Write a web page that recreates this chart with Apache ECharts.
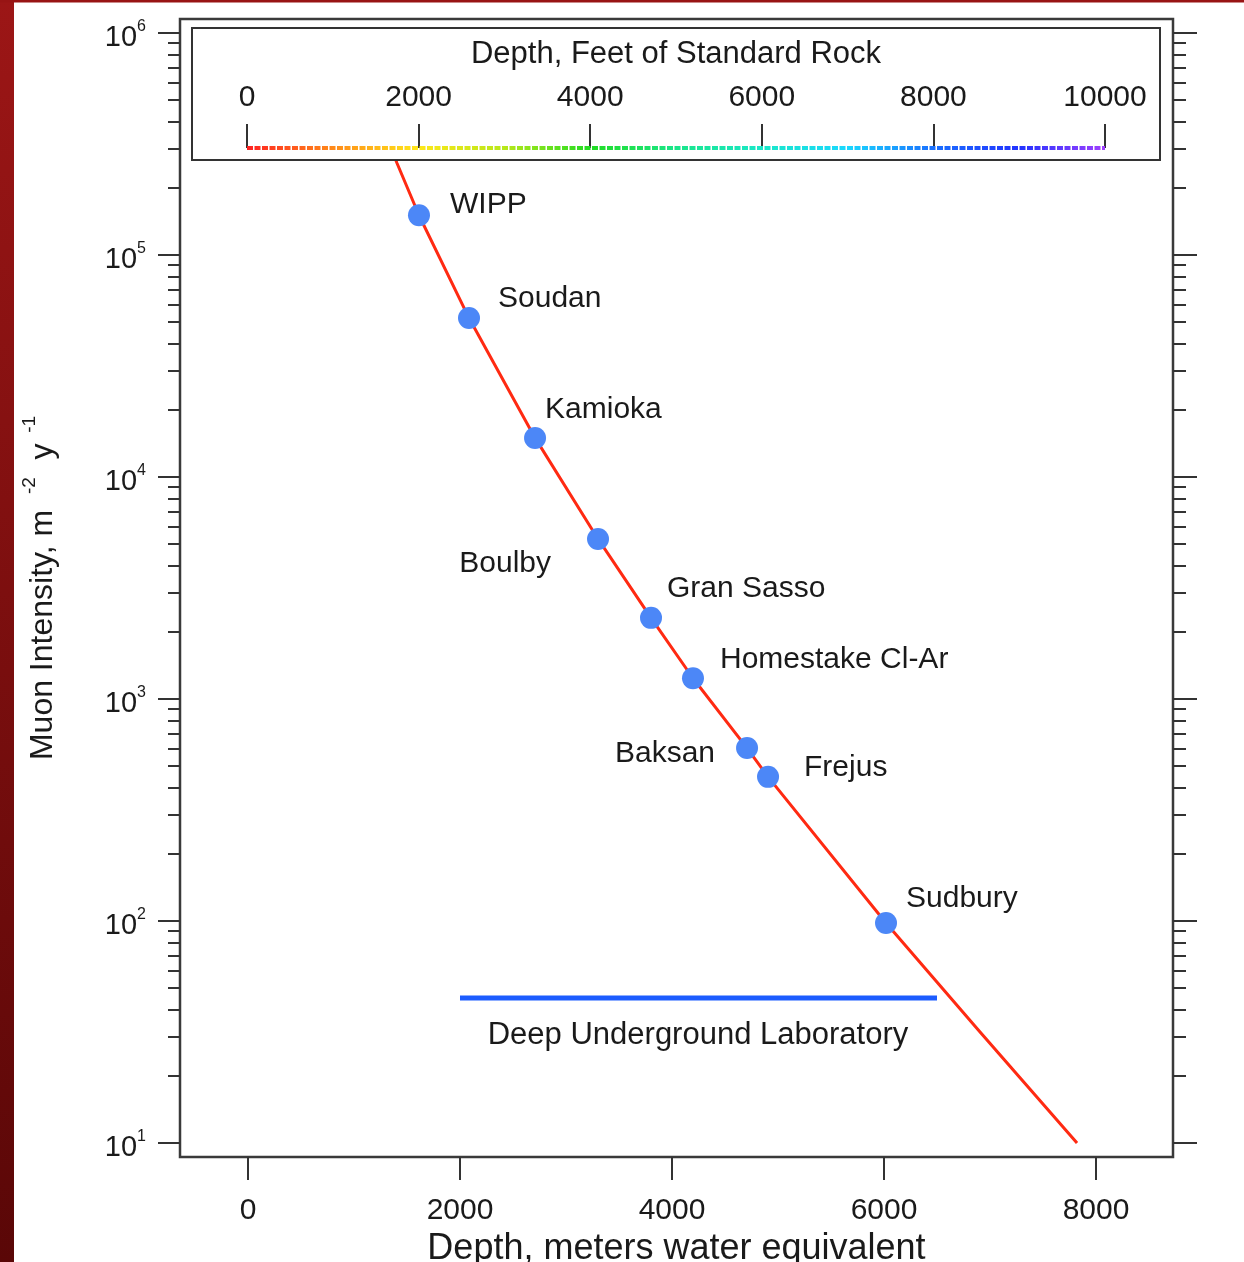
<!DOCTYPE html>
<html><head><meta charset="utf-8">
<script src="https://cdn.jsdelivr.net/npm/echarts@6/dist/echarts.min.js"></script>
<style>html,body{margin:0;padding:0;background:#fff;overflow:hidden}#c{width:1244px;height:1262px}</style>
</head><body><div id="c"></div>
<script>
// ---- data ----
const siteNames = ['WIPP','Soudan','Kamioka','Boulby','Gran Sasso','Homestake Cl-Ar','Baksan','Frejus','Sudbury'];
const siteDepths = [1613, 2085, 2708, 3302, 3802, 4198, 4708, 4906, 6019];          // m.w.e.
const siteIntensities = [1.51e5, 5.2e4, 1.5e4, 5.26e3, 2.32e3, 1.24e3, 601, 446, 98]; // m^-2 y^-1
const curveDepths = [1321, 1406, 1613, 2085, 2708, 3302, 3802, 4198, 4708, 4906, 6019, 6906, 7821];
const curveIntensities = [3.3e5, 2.59e5, 1.51e5, 5.2e4, 1.5e4, 5.26e3, 2.32e3, 1.24e3, 601, 446, 98, 31.6, 10];
const labDepths = [2000, 4245, 6500];
const labIntensity = 45;
const labLabel = 'Deep Underground Laboratory';
const depthTicks = [0, 2000, 4000, 6000, 8000];
const decadeExponents = [1, 2, 3, 4, 5, 6];
const rockFeetTicks = [0, 2000, 4000, 6000, 8000, 10000];
const rockColors = ['#ff2222','#ff8a1a','#ffe81a','#b8e81a','#22dd22','#1ae68a','#1ae8c8','#1ad8ff','#1a70ff','#2233ff','#a040ff'];

// ---- label placement (style only) ----
const labelPlacement = {
  'WIPP': ['left', 31, -11],
  'Soudan': ['left', 29, -19],
  'Kamioka': ['left', 10, -28],
  'Boulby': ['right', -47, 25],
  'Gran Sasso': ['left', 16, -29],
  'Homestake Cl-Ar': ['left', 27, -19],
  'Baksan': ['right', -32, 6],
  'Frejus': ['left', 36, -9],
  'Sudbury': ['left', 20, -24]
};

const FONT = '"Liberation Sans", Arial, Helvetica, sans-serif';
const TXT = '#1a1a1a';
const yMin = 1 - 14 / 222, yMax = 6 + 14 / 222;
const minorVals = [];
decadeExponents.slice(0, 5).forEach(n => { for (let k = 2; k <= 9; k++) minorVals.push(Math.log10(k * Math.pow(10, n))); });

function yAxisDef(pos, major) {
  return {
    type: 'value', gridIndex: 0, position: pos, min: yMin, max: yMax,
    splitLine: { show: false }, axisLine: { show: false, onZero: false },
    axisTick: { show: true, inside: false, length: major ? (pos === 'left' ? 22 : 24) : (pos === 'left' ? 12 : 13),
      customValues: major ? decadeExponents : minorVals, lineStyle: { color: '#333', width: 2 } },
    axisLabel: (major && pos === 'left') ? {
      show: true, customValues: decadeExponents, margin: 34,
      formatter: v => '{a|10}{b|' + Math.round(v) + '}',
      rich: {
        a: { fontFamily: FONT, fontSize: 29, lineHeight: 29, color: TXT, padding: [10, 0, 0, 0] },
        b: { fontFamily: FONT, fontSize: 16, lineHeight: 16, color: TXT, verticalAlign: 'top' }
      }
    } : { show: false },
    name: (major && pos === 'left') ? '{n|Muon Intensity, m}{s|   -2}{n|  y}{s|  -1}' : '',
    nameLocation: 'middle', nameGap: 128, nameRotate: 90,
    nameTextStyle: { fontFamily: FONT, fontSize: 32, color: TXT,
      rich: {
        n: { fontFamily: FONT, fontSize: 32, lineHeight: 32, color: TXT, padding: [15, 0, 0, 0] },
        s: { fontFamily: FONT, fontSize: 19, lineHeight: 19, color: TXT, verticalAlign: 'top' }
      } }
  };
}

const chart = echarts.init(document.getElementById('c'), null, { renderer: 'canvas' });
chart.setOption({
  backgroundColor: '#ffffff',
  animation: false,
  textStyle: { fontFamily: FONT },
  graphic: [
    { type: 'rect', shape: { x: 0, y: 0, width: 14, height: 1262 }, z: 0,
      style: { fill: { type: 'linear', x: 0, y: 0, x2: 0, y2: 1, colorStops: [{ offset: 0, color: '#9c1616' }, { offset: 1, color: '#5a0707' }] } } },
    { type: 'rect', shape: { x: 0, y: 0, width: 1244, height: 2.5 }, z: 0, style: { fill: '#981414' } },
    { type: 'rect', shape: { x: 192, y: 28, width: 968, height: 132 }, z: 3,
      style: { fill: '#ffffff', stroke: '#333', lineWidth: 2 } }
  ],
  grid: [
    { left: 180, right: 71, top: 19, bottom: 105, show: true, borderColor: '#3a3a3a', borderWidth: 2.5,
      backgroundColor: 'transparent', containLabel: false, outerBoundsMode: 'none' },
    { left: 247, right: 139, top: 148, height: 10, show: false, containLabel: false, outerBoundsMode: 'none' }
  ],
  visualMap: [{ type: 'continuous', show: false, seriesIndex: 3, dimension: 0, min: 0, max: 10000, inRange: { color: rockColors } }],
  xAxis: [
    { type: 'value', gridIndex: 0, min: -641.5, max: 8726.4, position: 'bottom',
      splitLine: { show: false }, axisLine: { show: false, onZero: false },
      axisTick: { show: true, inside: false, length: 23, customValues: depthTicks, lineStyle: { color: '#333', width: 2 } },
      axisLabel: { show: true, customValues: depthTicks, margin: 39, fontFamily: FONT, fontSize: 30, color: TXT, formatter: v => String(v) },
      name: 'Depth, meters water equivalent', nameLocation: 'middle', nameGap: 73,
      nameTextStyle: { fontFamily: FONT, fontSize: 36, color: TXT } },
    { type: 'value', gridIndex: 1, min: 0, max: 10000, position: 'top', z: 6,
      splitLine: { show: false }, axisLine: { show: false, onZero: false },
      axisTick: { show: true, inside: false, length: 24, customValues: rockFeetTicks, lineStyle: { color: '#333', width: 2 } },
      axisLabel: { show: true, customValues: rockFeetTicks, margin: 35, fontFamily: FONT, fontSize: 30, color: TXT, formatter: v => String(v) },
      name: 'Depth, Feet of Standard Rock', nameLocation: 'middle', nameGap: 78,
      nameTextStyle: { fontFamily: FONT, fontSize: 31, color: TXT } }
  ],
  yAxis: [
    yAxisDef('left', true), yAxisDef('left', false), yAxisDef('right', true), yAxisDef('right', false),
    { type: 'value', gridIndex: 1, min: 0, max: 1, show: false, axisLine: { onZero: false } }
  ],
  series: [
    { type: 'line', xAxisIndex: 0, yAxisIndex: 0, z: 2, silent: true,
      data: curveDepths.map((d, i) => [d, Math.log10(curveIntensities[i])]),
      smooth: false, showSymbol: false, symbol: 'none',
      lineStyle: { color: '#ff2a12', width: 3, join: 'round' } },
    { type: 'line', xAxisIndex: 0, yAxisIndex: 0, z: 2, silent: true,
      data: labDepths.map((d, i) => ({ value: [d, Math.log10(labIntensity)],
        label: { show: i === 1, position: 'inside', offset: [0, 37], formatter: labLabel, fontFamily: FONT, fontSize: 31, color: TXT } })),
      symbol: 'circle', symbolSize: 0.01, showSymbol: true,
      lineStyle: { color: '#1c5cff', width: 5 } },
    { type: 'scatter', xAxisIndex: 0, yAxisIndex: 0, z: 4, silent: true,
      symbolSize: 22,
      itemStyle: { color: '#4c87f7', opacity: 1 },
      data: siteNames.map((n, i) => {
        const p = labelPlacement[n];
        return { name: n, value: [siteDepths[i], Math.log10(siteIntensities[i])],
          label: { show: true, position: 'inside', align: p[0], verticalAlign: 'middle', offset: [p[1], p[2]],
            formatter: n, fontFamily: FONT, fontSize: 30, color: TXT, opacity: 1 } };
      }) },
    { type: 'line', xAxisIndex: 1, yAxisIndex: 4, z: 6, silent: true,
      data: rockFeetTicks.map(v => [v, 1]), showSymbol: false, symbol: 'none',
      lineStyle: { width: 4, type: [6, 1.5] } }
  ]
});
</script>
</body></html>
